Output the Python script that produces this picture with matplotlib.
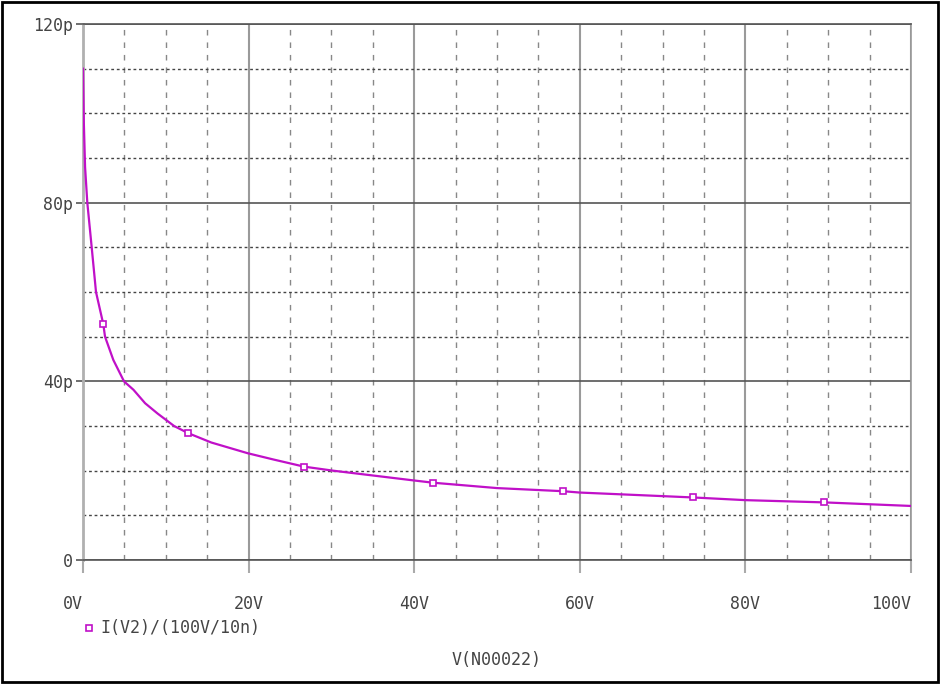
import matplotlib
matplotlib.use("Agg")
import matplotlib.pyplot as plt
from matplotlib.patches import Rectangle

# values (V in volts, C in pF)
volts = [0, 0.1, 0.25, 0.52, 1.05, 1.57, 2.45, 2.66, 3.66, 4.95, 6.1, 7.5,
         9.0, 11.0, 12.7, 15.5, 19.9, 23, 26.7, 30.2, 40, 42.3, 50, 58, 60,
         70, 73.7, 80, 89.5, 100]
cap_p = [110, 98, 88, 80, 70, 60, 52.8, 50, 44.8, 40, 38.1, 35.1,
         32.8, 30, 28.4, 26.3, 23.9, 22.5, 20.9, 20, 17.8, 17.3, 16.1, 15.4, 15.1,
         14.3, 14.0, 13.4, 12.9, 12.1]

# trace markers
mark_v = [2.45, 12.7, 26.7, 42.3, 58.0, 73.7, 89.5]
mark_c = [52.8, 28.4, 20.9, 17.3, 15.4, 14.0, 12.9]

xticks = [0, 20, 40, 60, 80, 100]
xlabels = ["0V", "20V", "40V", "60V", "80V", "100V"]
yticks = [0, 40, 80, 120]
ylabels = ["0", "40p", "80p", "120p"]

trace = "#c010c8"
txt = "#444444"
mono = "DejaVu Sans Mono"

fig = plt.figure(figsize=(9.4, 6.84), dpi=100)
ax = fig.add_axes([83/940, 1-560/684, (911-83)/940, (560-24)/684])

ax.plot(volts, cap_p, color=trace, lw=1.6, zorder=5)
ax.plot(mark_v, mark_c, ls="none", marker="s", ms=5, mfc="white",
        mec=trace, mew=1.2, zorder=6)

ax.set_xlim(0, 100)
ax.set_ylim(0, 120)
ax.set_xticks(xticks)
ax.set_yticks(yticks)
ax.set_xticks(range(0, 101, 5), minor=True)
ax.set_yticks(range(0, 121, 10), minor=True)

ax.set_xticklabels(xlabels, family=mono, fontsize=12, color=txt)
ax.set_yticklabels(ylabels, family=mono, fontsize=12, color=txt)
ax.get_xticklabels()[0].set_ha("right")
ax.get_xticklabels()[-1].set_ha("right")

ax.tick_params(axis="x", which="major", length=9, width=1.5, color="#aaaaaa",
               pad=16)
ax.tick_params(axis="y", which="major", length=5, width=1.2, color="#555555",
               pad=2)
ax.tick_params(which="minor", length=0)

# grid: solid majors, dotted/dashed minors
ax.xaxis.grid(True, which="major", color="#9a9a9a", lw=1.5, ls="-")
ax.yaxis.grid(True, which="major", color="#555555", lw=1.2, ls="-")
ax.xaxis.grid(True, which="minor", color="#888888", lw=1.0, ls=(0, (4, 5)))
ax.yaxis.grid(True, which="minor", color="#444444", lw=1.0, ls=(0, (2, 2)))
ax.set_axisbelow(True)

ax.spines["top"].set_color("#555555")
ax.spines["bottom"].set_color("#555555")
ax.spines["top"].set_linewidth(1.2)
ax.spines["bottom"].set_linewidth(1.2)
ax.spines["left"].set_color("#b0b0b0")
ax.spines["left"].set_linewidth(2)
ax.spines["right"].set_color("#999999")
ax.spines["right"].set_linewidth(1.2)

# legend and axis title, PSpice style
fig.lines.append(plt.Line2D([89/940], [1-628/684], transform=fig.transFigure,
                            marker="s", ms=5, mfc="white", mec=trace, mew=1.2))
fig.text(100/940, 1-628/684, "I(V2)/(100V/10n)", family=mono, fontsize=12,
         color=txt, va="center", ha="left")
fig.text(497/940, 1-660/684, "V(N00022)", family=mono, fontsize=12,
         color=txt, va="center", ha="center")

# outer frame
fig.patches.append(Rectangle((0.002, 0.003), 0.996, 0.994,
                             transform=fig.transFigure, fill=False,
                             ec="black", lw=2))

fig.savefig("out.png", dpi=100)
